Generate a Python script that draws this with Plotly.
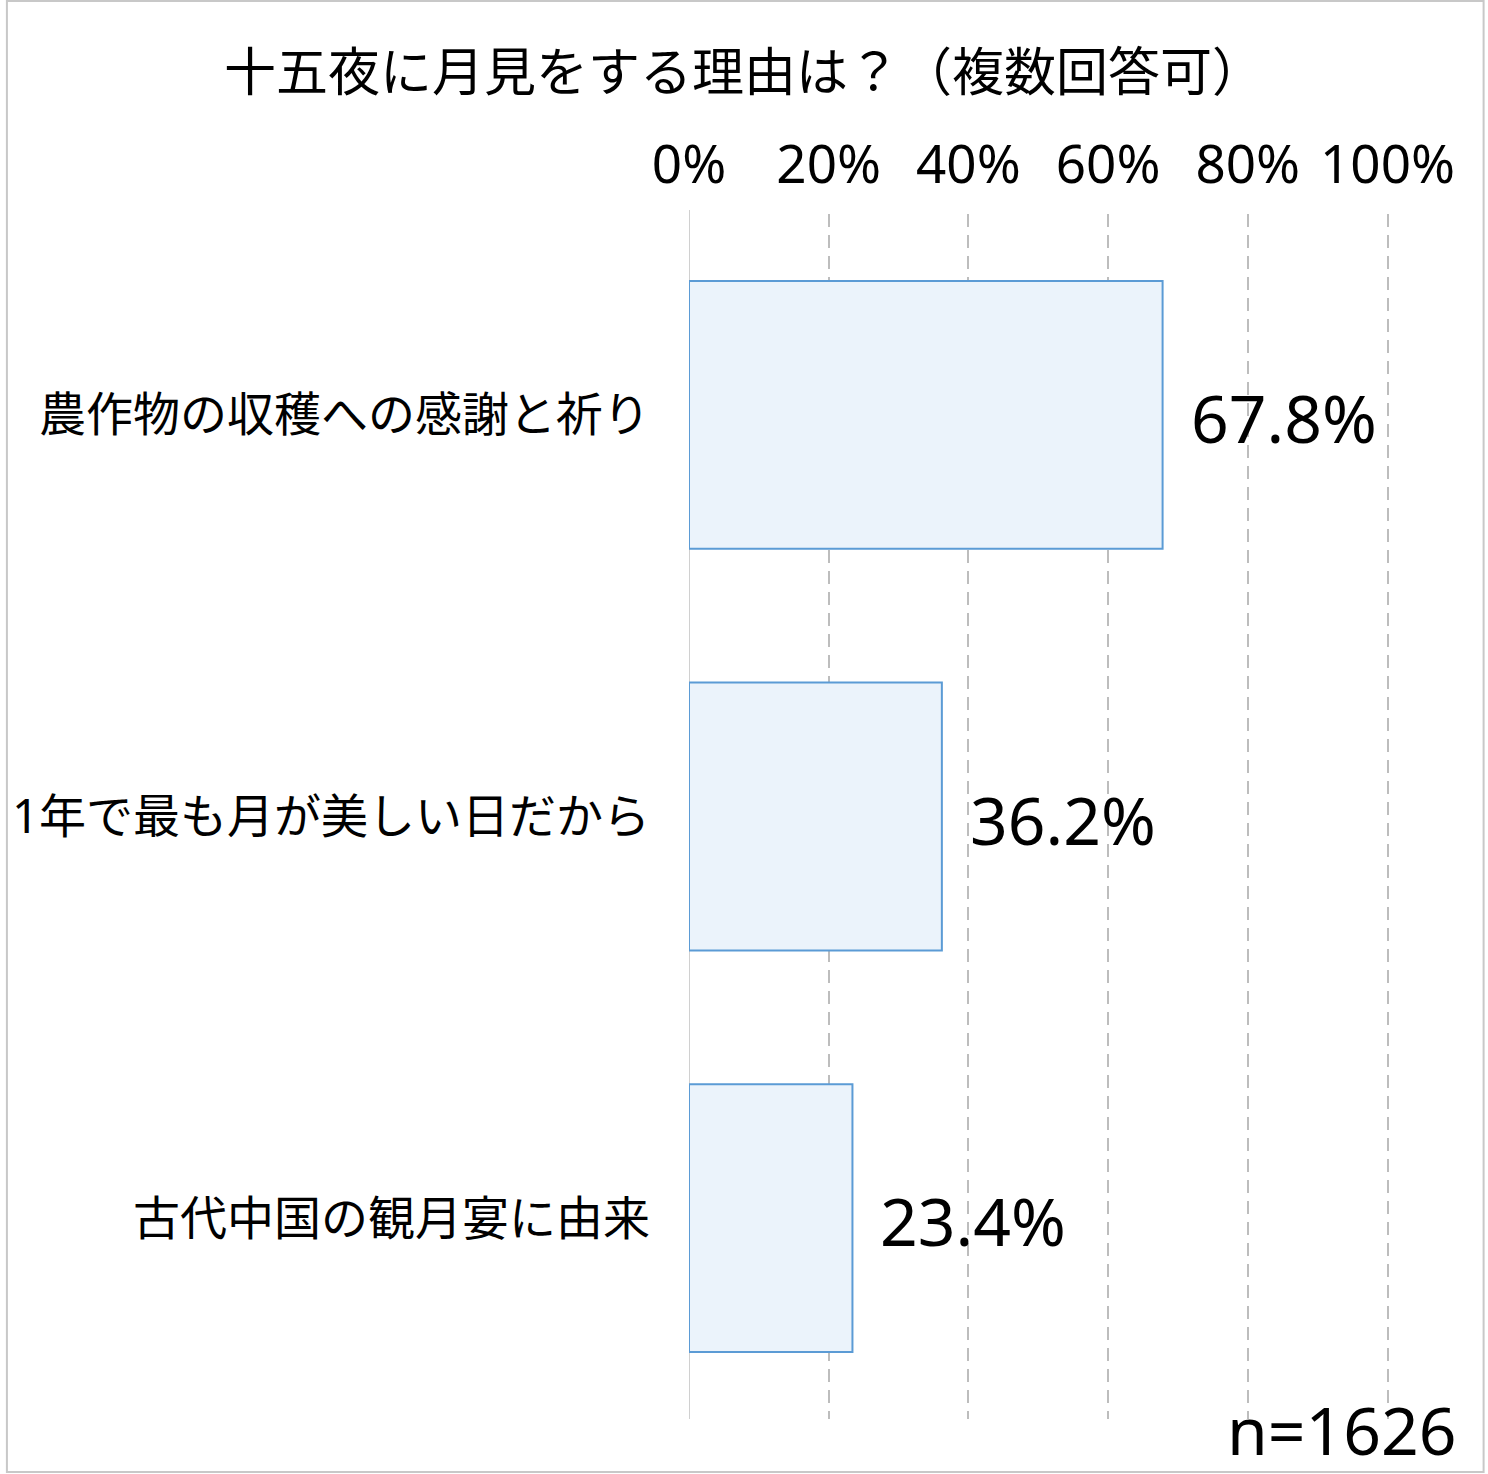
import plotly.graph_objects as go

# data
reasons = ["農作物の収穫への感謝と祈り", "1年で最も月が美しい日だから", "古代中国の観月宴に由来"]
shares = [67.8, 36.2, 23.4]
tick_vals = [0, 20, 40, 60, 80, 100]
tick_text = ["0%", "20%", "40%", "60%", "80%", "100%"]
title_text = "十五夜に月見をする理由は？（複数回答可）"
sample_note = "n=1626"

FONT = "Noto Sans, Noto Sans CJK JP"
W, H = 1488, 1474
L, R, T, B = 686, 97, 214, 55
pw, ph = W - L - R, H - T - B

fig = go.Figure()
fig.add_trace(go.Bar(
    x=shares, y=reasons, orientation="h",
    marker=dict(color="#EBF3FB", line=dict(color="#5B9BD5", width=2)),
    hoverinfo="skip"))

# value labels right of the bars
for r, v in zip(reasons, shares):
    fig.add_annotation(x=v, y=r, text=f"{v:.1f}%", showarrow=False,
                       xanchor="left", yanchor="middle", xshift=26, yshift=-2,
                       font=dict(family=FONT, size=66, color="black"))

fig.add_annotation(xref="paper", yref="paper", x=1, y=0, text=sample_note,
                   showarrow=False, xanchor="right", yanchor="middle",
                   xshift=68, yshift=-10,
                   font=dict(family=FONT, size=66, color="black"))

# outer frame
fig.add_shape(type="rect", xref="paper", yref="paper",
              x0=(1 - L) / pw, x1=(1484 - L) / pw,
              y0=(H - B - 1472) / ph, y1=(H - B - 1) / ph,
              line=dict(color="#C8C8C8", width=2), fillcolor="rgba(0,0,0,0)",
              layer="below")

fig.update_xaxes(range=[0, 100.5], side="top", tickvals=tick_vals, ticktext=tick_text,
                 showgrid=True, gridcolor="#BDBDBD", gridwidth=2, griddash="13px,8px",
                 zeroline=False, showline=False, ticks="",
                 ticklabelstandoff=19,
                 tickfont=dict(family=FONT, size=53, color="black"))
fig.update_yaxes(autorange="reversed", showgrid=False, zeroline=False,
                 showline=False, ticks="", ticklabelstandoff=38,
                 tickfont=dict(family=FONT, size=47, color="black"))

# solid line at 0%
fig.add_shape(type="line", xref="x", yref="paper", x0=0, x1=0, y0=0, y1=1 + 4 / ph,
              line=dict(color="#D0D0D0", width=2), layer="below")

fig.update_layout(
    width=W, height=H, autosize=False,
    margin=dict(l=L, r=R, t=T, b=B),
    paper_bgcolor="white", plot_bgcolor="white",
    bargap=0.333, showlegend=False,
    title=dict(text=title_text, x=0.5, xanchor="center", xref="container",
               y=1 - 73 / H, yanchor="middle", yref="container",
               font=dict(family=FONT, size=52, color="black")),
)

fig.write_html("out.html", config={"displayModeBar": False},
               post_script="document.body.style.margin='0px';")
